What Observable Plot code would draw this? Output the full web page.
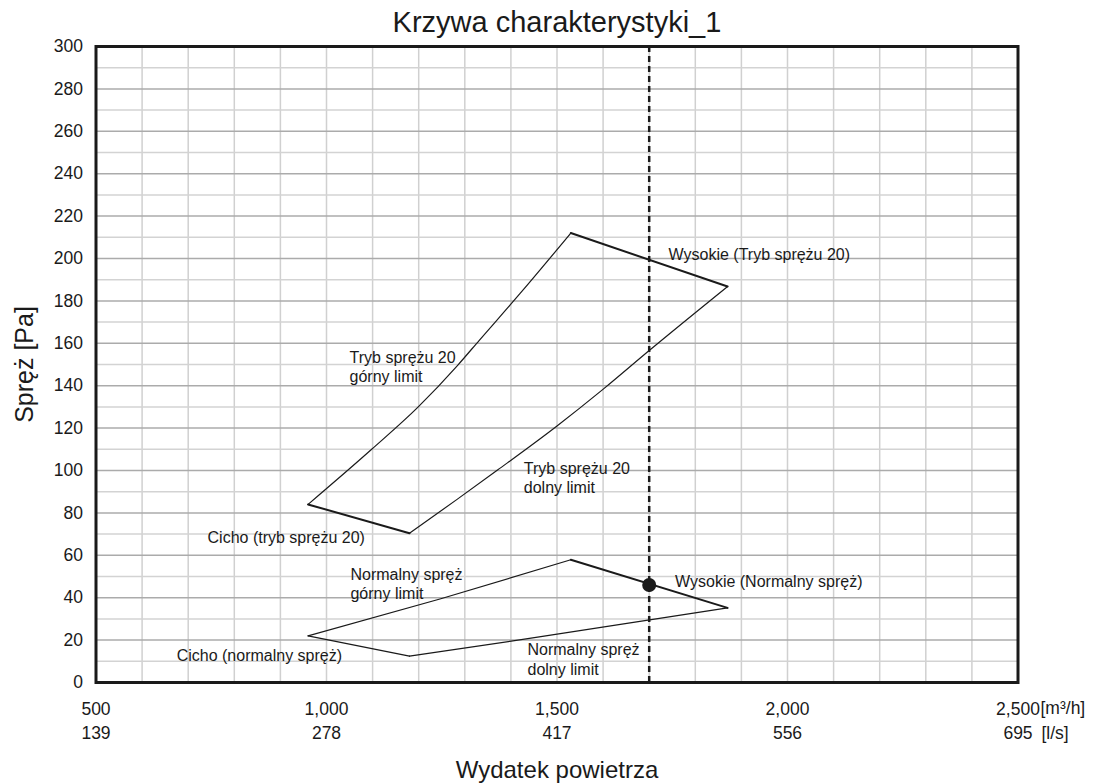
<!DOCTYPE html>
<html>
<head>
<meta charset="utf-8">
<script src="https://cdn.jsdelivr.net/npm/d3@7"></script>
<script src="https://cdn.jsdelivr.net/npm/@observablehq/plot@0.6"></script>
<style>
  html, body { margin: 0; padding: 0; background: #fff; }
</style>
</head>
<body>
<div id="chart"></div>
<script>
// ---- Data ----
const xTicks = [500, 1000, 1500, 2000, 2500];          // m³/h
const lsLabels = ["139", "278", "417", "556", "695"];  // l/s
const yTicks = [0, 20, 40, 60, 80, 100, 120, 140, 160, 180, 200, 220, 240, 260, 280, 300];
const xGrid = [500, 600, 700, 800, 900, 1000, 1100, 1200, 1300, 1400, 1500, 1600, 1700, 1800, 1900, 2000, 2100, 2200, 2300, 2400, 2500];
const yMinor = [10, 30, 50, 70, 90, 110, 130, 150, 170, 190, 210, 230, 250, 270, 290];

// Tryb sprężu 20 envelope
const t20Upper = [[960, 84], [1098, 110], [1199, 130], [1284, 149.5], [1331, 161.3], [1420, 183.5], [1530, 212]];
const t20Lower = [[1180, 70.4], [1284, 86.5], [1371, 100.2], [1500, 121], [1601, 138.5], [1700, 156.6], [1870, 186.8]];
const t20High = [[1530, 212], [1870, 186.8]];
const t20Quiet = [[960, 84], [1180, 70.4]];

// Normalny spręż envelope
const nUpper = [[960, 22], [1248, 39.5], [1530, 57.9]];
const nLower = [[1180, 12.4], [1465, 21.6], [1870, 35.2]];
const nHigh = [[1530, 57.9], [1870, 35.2]];
const nQuiet = [[960, 22], [1180, 12.4]];

// Operating point
const opX = 1700;
const opPoint = [[1700, 46]];

// Annotations [x, y, text]
const labels = [
  [1742, 202.4, "Wysokie (Tryb sprężu 20)"],
  [1050, 149.2, "Tryb sprężu 20\ngórny limit"],
  [1428, 96.7, "Tryb sprężu 20\ndolny limit"],
  [742, 68.9, "Cicho (tryb sprężu 20)"],
  [1052, 46.9, "Normalny spręż\ngórny limit"],
  [1756, 47.8, "Wysokie (Normalny spręż)"],
  [675, 13.2, "Cicho (normalny spręż)"],
  [1436, 11.3, "Normalny spręż\ndolny limit"]
];

const ink = "#1a1a1a";
const X = d => d[0], Y = d => d[1];

const chart = Plot.plot({
  width: 1094,
  height: 784,
  marginTop: 46,
  marginLeft: 95.5,
  marginRight: 76.5,
  marginBottom: 102,
  style: { fontFamily: "'Liberation Sans', Arial, sans-serif", fontSize: "17px", background: "#fff", color: ink },
  x: { domain: [500, 2500] },
  y: { domain: [0, 300] },
  marks: [
    Plot.gridX(xGrid, { stroke: "#d0d0d0", strokeOpacity: 1, strokeWidth: 1.5 }),
    Plot.gridY(yMinor, { stroke: "#d3d3d3", strokeOpacity: 1, strokeWidth: 1.5 }),
    Plot.gridY(yTicks, { stroke: "#ababab", strokeOpacity: 1, strokeWidth: 1.5 }),
    Plot.axisY(yTicks, { tickSize: 0, tickPadding: 13, fontSize: 17.5, label: null }),
    Plot.axisX(xTicks, { tickSize: 0, tickPadding: 20, fontSize: 17.5, label: null, tickFormat: d3.format(",") }),
    Plot.text(xTicks, { x: d => d, text: (d, i) => lsLabels[i], frameAnchor: "bottom", lineAnchor: "middle", dy: 50.6, fontSize: 17.5 }),
    Plot.text(["[m³/h]"], { x: () => 2500, frameAnchor: "bottom", lineAnchor: "middle", dy: 26, dx: 22.5, textAnchor: "start", fontSize: 17.5 }),
    Plot.text(["[l/s]"], { x: () => 2500, frameAnchor: "bottom", lineAnchor: "middle", dy: 50.6, dx: 23.5, textAnchor: "start", fontSize: 17.5 }),
    Plot.text(["Krzywa charakterystyki_1"], { frameAnchor: "top", lineAnchor: "middle", dy: -24, fontSize: 29 }),
    Plot.text(["Spręż [Pa]"], { frameAnchor: "left", textAnchor: "middle", lineAnchor: "middle", dx: -71, rotate: -90, fontSize: 25 }),
    Plot.text(["Wydatek powietrza"], { frameAnchor: "bottom", lineAnchor: "middle", dy: 88, fontSize: 24 }),

    Plot.line(t20Upper, { x: X, y: Y, stroke: ink, strokeWidth: 1.2, curve: "monotone-x" }),
    Plot.line(t20Lower, { x: X, y: Y, stroke: ink, strokeWidth: 1.2, curve: "monotone-x" }),
    Plot.line(t20High, { x: X, y: Y, stroke: ink, strokeWidth: 2 }),
    Plot.line(t20Quiet, { x: X, y: Y, stroke: ink, strokeWidth: 2 }),
    Plot.line(nUpper, { x: X, y: Y, stroke: ink, strokeWidth: 1.2 }),
    Plot.line(nLower, { x: X, y: Y, stroke: ink, strokeWidth: 1.2 }),
    Plot.line(nHigh, { x: X, y: Y, stroke: ink, strokeWidth: 2 }),
    Plot.line(nQuiet, { x: X, y: Y, stroke: ink, strokeWidth: 1.2 }),

    Plot.ruleX([opX], { stroke: ink, strokeWidth: 2.5, strokeDasharray: "6,4" }),
    Plot.dot(opPoint, { x: X, y: Y, r: 7, fill: ink, stroke: "none" }),

    Plot.text(labels, { x: X, y: Y, text: d => d[2], textAnchor: "start", lineAnchor: "middle", lineHeight: 1.22, fontSize: 16, fill: ink }),

    Plot.frame({ stroke: ink, strokeWidth: 3 })
  ]
});
document.getElementById("chart").appendChild(chart);
</script>
</body>
</html>
